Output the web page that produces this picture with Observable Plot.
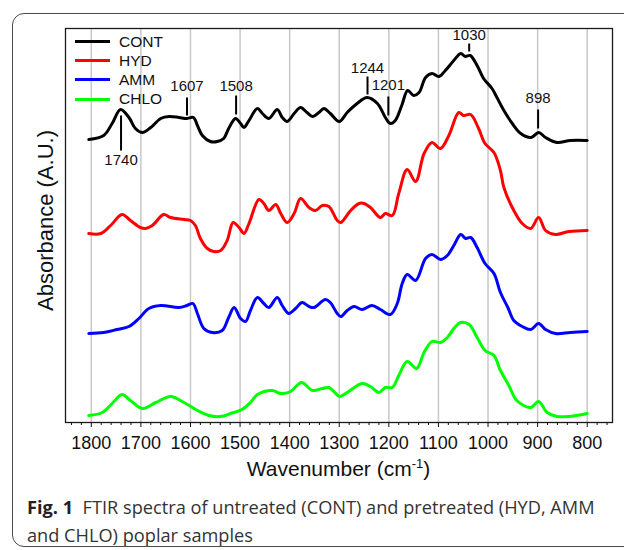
<!DOCTYPE html>
<html>
<head>
<meta charset="utf-8">
<script src="https://cdn.jsdelivr.net/npm/d3@7"></script>
<script src="https://cdn.jsdelivr.net/npm/@observablehq/plot@0.6"></script>
<style>
  html, body { margin: 0; padding: 0; background: #fff; overflow: hidden; }
  #wrap { position: relative; width: 624px; height: 550px; font-family: "Liberation Sans", Arial, sans-serif; }
  #box { position: absolute; left: 12px; top: 13px; width: 700px; height: 532px; border: 1.3px solid #4a4a4a; border-radius: 12px; }
  #chart { position: absolute; left: 0; top: 0; }
  #legend { position: absolute; left: 75px; top: 32px; font-size: 15.5px; color: #111; }
  #legend .row { display: flex; align-items: center; height: 19.2px; }
  #legend .sw { width: 35px; height: 3px; margin-right: 9px; }
  #xlabel { position: absolute; left: 65px; width: 547px; top: 457px; text-align: center; font-size: 21px; line-height: 24px; color: #111; }
  #xlabel sup { font-size: 13px; vertical-align: 8px; line-height: 0; }
  #caption { position: absolute; left: 27px; top: 493px; font-family: "Open Sans", sans-serif; font-size: 18.2px; line-height: 28px; color: #333; white-space: nowrap; }
  #caption b { color: #222; }
</style>
</head>
<body>
<div id="wrap">
  <div id="box"></div>
  <div id="chart"></div>
  <div id="legend"></div>
  <div id="xlabel">Wavenumber (cm<sup>-1</sup>)</div>
  <div id="caption"><b>Fig. 1</b>&nbsp; FTIR spectra of untreated (CONT) and pretreated (HYD, AMM<br>and CHLO) poplar samples</div>
</div>
<script>
// ---- Data (absorbance in arbitrary units, spectra offset vertically as in the figure) ----
const seriesNames = ["CONT", "HYD", "AMM", "CHLO"];
const seriesColors = ["#000000", "#ff0000", "#0000ff", "#00ff00"];

const contWn  = [1805,1775,1758,1741,1724,1711,1697,1680,1660,1643,1623,1608,1594,1586,1576,1560,1546,1533,1523,1509,1499,1492,1482,1465,1455,1442,1425,1415,1405,1391,1378,1365,1354,1341,1331,1318,1300,1284,1264,1244,1223,1207,1197,1187,1174,1162,1150,1139,1126,1113,1099,1086,1069,1055,1046,1036,1022,1009,992,982,968,951,934,913,898,884,861,834,800];
const contAbs = [2.83,2.87,2.99,3.13,3.05,2.94,2.90,2.95,3.04,3.06,3.05,3.04,3.05,2.97,2.87,2.81,2.81,2.84,2.94,3.04,2.99,2.95,3.02,3.14,3.09,3.04,3.13,3.05,3.01,3.09,3.15,3.10,3.06,3.10,3.14,3.09,3.01,3.10,3.19,3.25,3.19,3.05,2.99,3.02,3.17,3.32,3.27,3.30,3.45,3.49,3.46,3.52,3.62,3.69,3.66,3.67,3.57,3.44,3.34,3.25,3.12,2.99,2.89,2.85,2.90,2.85,2.80,2.82,2.82];

const hydWn  = [1805,1781,1761,1738,1721,1701,1691,1677,1654,1640,1613,1600,1590,1580,1566,1553,1539,1526,1514,1502,1492,1482,1462,1452,1442,1428,1418,1405,1391,1378,1361,1348,1334,1321,1304,1297,1277,1260,1250,1237,1217,1207,1193,1180,1163,1146,1129,1113,1096,1079,1059,1049,1035,1019,1006,988,975,968,948,931,914,898,884,864,837,800];
const hydAbs = [1.89,1.89,1.97,2.08,2.02,1.95,1.94,1.97,2.08,2.05,2.03,2.02,1.97,1.84,1.74,1.71,1.72,1.82,2.00,1.95,1.89,1.99,2.23,2.19,2.12,2.18,2.09,2.00,2.09,2.24,2.15,2.12,2.17,2.16,2.02,2.00,2.12,2.19,2.19,2.15,2.05,2.09,2.07,2.29,2.53,2.41,2.69,2.80,2.74,2.87,3.10,3.07,3.08,2.94,2.79,2.70,2.52,2.35,2.12,1.99,1.94,2.05,1.92,1.88,1.91,1.92];

const ammWn  = [1805,1775,1748,1724,1704,1684,1660,1623,1607,1595,1586,1573,1556,1536,1523,1512,1499,1489,1479,1465,1452,1442,1425,1415,1402,1388,1375,1361,1351,1328,1318,1304,1297,1284,1270,1254,1234,1217,1197,1183,1173,1163,1146,1126,1113,1096,1082,1069,1055,1045,1035,1022,1006,988,975,960,948,931,914,898,884,864,834,800];
const ammAbs = [0.89,0.90,0.93,0.96,1.04,1.14,1.17,1.15,1.17,1.19,1.09,0.94,0.90,0.92,1.05,1.15,1.04,1.01,1.12,1.25,1.19,1.15,1.25,1.17,1.09,1.14,1.20,1.16,1.15,1.23,1.20,1.09,1.06,1.12,1.16,1.13,1.17,1.13,1.08,1.19,1.39,1.48,1.42,1.64,1.68,1.63,1.67,1.77,1.88,1.84,1.85,1.75,1.59,1.49,1.30,1.15,1.02,0.96,0.93,0.99,0.93,0.89,0.90,0.91];

const chloWn  = [1805,1778,1758,1738,1721,1697,1670,1640,1613,1586,1563,1539,1519,1496,1479,1465,1435,1418,1398,1376,1354,1334,1321,1307,1300,1284,1254,1237,1220,1207,1193,1180,1163,1144,1129,1113,1096,1082,1069,1055,1038,1022,1006,988,975,958,942,914,898,881,861,837,800];
const chloAbs = [0.07,0.10,0.19,0.28,0.22,0.14,0.20,0.26,0.20,0.12,0.07,0.06,0.09,0.13,0.20,0.28,0.32,0.29,0.31,0.40,0.32,0.34,0.35,0.29,0.26,0.30,0.39,0.36,0.30,0.35,0.35,0.47,0.61,0.54,0.70,0.81,0.80,0.85,0.94,1.00,0.98,0.85,0.72,0.67,0.52,0.37,0.22,0.15,0.21,0.10,0.06,0.06,0.09];

// Peak annotations on the CONT spectrum
const peakLabels = ["1740", "1607", "1508", "1244", "1201", "1030", "898"];
const peakWn     = [1740, 1607, 1508, 1243, 1201, 1038, 899];
const peakLineA  = [3.07, 3.25, 3.27, 3.46, 3.26, 3.79, 3.13];
const peakLineB  = [2.72, 3.07, 3.08, 3.28, 3.07, 3.71, 2.94];
const peakTextY  = [2.62, 3.36, 3.36, 3.54, 3.37, 3.87, 3.24];

// Axis ticks
const majorTicks = [1800,1700,1600,1500,1400,1300,1200,1100,1000,900,800];
const minorTicks = d3.range(1840, 759, -20).filter(v => v % 100 !== 0);

// ---- Build tables ----
const wnLists = [contWn, hydWn, ammWn, chloWn];
const absLists = [contAbs, hydAbs, ammAbs, chloAbs];
const spectra = seriesNames.flatMap((name, i) =>
  wnLists[i].map((w, j) => ({series: name, wn: w, abs: absLists[i][j]})));
const peaks = peakLabels.map((t, i) => ({label: t, wn: peakWn[i], a: peakLineA[i], b: peakLineB[i], ty: peakTextY[i]}));

const chart = Plot.plot({
  width: 624,
  height: 455,
  marginLeft: 65,
  marginRight: 12,
  marginTop: 28,
  marginBottom: 33,
  style: {fontFamily: "'Liberation Sans', Arial, sans-serif", background: "transparent", color: "#111"},
  x: {domain: [1852, 749]},
  y: {domain: [0, 3.94], axis: null},
  color: {domain: seriesNames, range: seriesColors},
  marks: [
    Plot.ruleX(majorTicks, {stroke: "#c8c8c8", strokeWidth: 1.5}),
    Plot.line(spectra, {x: "wn", y: "abs", z: "series", stroke: "series", strokeWidth: 3, curve: "catmull-rom"}),
    Plot.link(peaks, {x1: "wn", x2: "wn", y1: "a", y2: "b", stroke: "#000", strokeWidth: 2}),
    Plot.text(peaks, {x: "wn", y: "ty", text: "label", fontSize: 15, fill: "#111"}),
    Plot.frame({stroke: "#1a1a1a", strokeWidth: 1.3}),
    Plot.axisX({ticks: majorTicks, tickSize: 5, tickPadding: 9, fontSize: 18, tickFormat: d => String(d), label: null}),
    Plot.axisX({ticks: minorTicks, tickSize: 3, tickFormat: () => "", label: null}),
    Plot.text(["Absorbance (A.U.)"], {frameAnchor: "left", textAnchor: "middle", rotate: -90, dx: -20, dy: -5, fontSize: 22, fill: "#111"})
  ]
});
document.getElementById("chart").appendChild(chart);

const legend = document.getElementById("legend");
seriesNames.forEach((n, i) => {
  const row = document.createElement("div");
  row.className = "row";
  row.innerHTML = `<span class="sw" style="background:${seriesColors[i]}"></span><span>${n}</span>`;
  legend.appendChild(row);
});
</script>
</body>
</html>
